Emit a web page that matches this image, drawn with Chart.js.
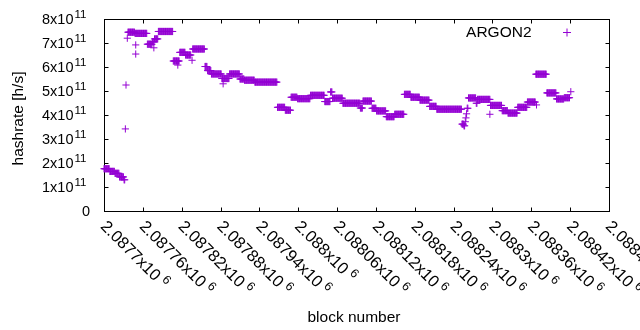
<!DOCTYPE html>
<html>
<head>
<meta charset="utf-8">
<script src="https://cdn.jsdelivr.net/npm/chart.js@4/dist/chart.umd.min.js"></script>
<style>
  html, body { margin: 0; padding: 0; background: #fff; }
  canvas { display: block; }
</style>
</head>
<body>
<canvas id="hashrateChart" width="640" height="330"></canvas>
<script>
const seriesName = 'ARGON2';
const xTitle = 'block number';
const yTitle = 'hashrate [h/s]';

// tick positions (block numbers / hashrate)
const xTicks = [2087700, 2087760, 2087820, 2087880, 2087940, 2088000, 2088060,
                2088120, 2088180, 2088240, 2088300, 2088360, 2088420, 2088480];
const yTicks = [0, 1e11, 2e11, 3e11, 4e11, 5e11, 6e11, 7e11, 8e11];

// hashrate is flat over runs of blocks: [runStart, runEnd) -> runRate
const runStart = [2087700, 2087709, 2087717, 2087724, 2087731, 2087737, 2087748, 2087767, 2087775, 2087778,
                  2087784, 2087807, 2087817, 2087826, 2087837, 2087856, 2087860, 2087866, 2087882, 2087894,
                  2087910, 2087917, 2087933, 2087968, 2087980, 2087989, 2087999, 2088019, 2088041, 2088050,
                  2088053, 2088069, 2088096, 2088100, 2088114, 2088121, 2088136, 2088149, 2088164, 2088174,
                  2088188, 2088203, 2088214, 2088253, 2088256, 2088258, 2088259, 2088260, 2088261, 2088263,
                  2088275, 2088277, 2088297, 2088315, 2088324, 2088339, 2088354, 2088367, 2088384, 2088399,
                  2088411];
const runEnd   = [2087709, 2087717, 2087724, 2087731, 2087733, 2087748, 2087767, 2087775, 2087778, 2087784,
                  2087807, 2087817, 2087826, 2087835, 2087856, 2087860, 2087866, 2087882, 2087894, 2087910,
                  2087917, 2087933, 2087968, 2087980, 2087989, 2087999, 2088019, 2088041, 2088050, 2088053,
                  2088069, 2088096, 2088100, 2088114, 2088121, 2088136, 2088149, 2088164, 2088174, 2088188,
                  2088203, 2088214, 2088253, 2088256, 2088258, 2088259, 2088260, 2088261, 2088263, 2088275,
                  2088277, 2088297, 2088315, 2088324, 2088339, 2088354, 2088367, 2088384, 2088399, 2088411,
                  2088420];
const runRate  = [1.76e11, 1.65e11, 1.57e11, 1.42e11, 1.30e11, 7.45e11, 7.40e11, 6.95e11, 7.05e11, 7.17e11,
                  7.48e11, 6.25e11, 6.61e11, 6.50e11, 6.75e11, 6.02e11, 5.85e11, 5.71e11, 5.52e11, 5.71e11,
                  5.50e11, 5.45e11, 5.37e11, 4.32e11, 4.20e11, 4.74e11, 4.68e11, 4.82e11, 4.56e11, 4.96e11,
                  4.70e11, 4.49e11, 4.29e11, 4.58e11, 4.28e11, 4.17e11, 3.93e11, 4.03e11, 4.86e11, 4.74e11,
                  4.62e11, 4.36e11, 4.24e11, 3.62e11, 3.55e11, 3.72e11, 3.88e11, 4.05e11, 4.28e11, 4.71e11,
                  4.49e11, 4.65e11, 4.40e11, 4.18e11, 4.08e11, 4.32e11, 4.54e11, 5.70e11, 4.92e11, 4.67e11,
                  4.72e11];

// single blocks off the runs
const outlierBlock = [2087733, 2087734, 2087736, 2087749, 2087749, 2087777, 2087814, 2087836, 2087884, 2088296, 2088368, 2088421];
const outlierRate  = [3.42e11, 5.25e11, 7.20e11, 6.92e11, 6.54e11, 6.80e11, 6.08e11, 6.28e11, 5.30e11, 4.03e11, 4.42e11, 4.97e11];

const violet = '#9400d3';
const FONT = '"Liberation Sans", Arial, sans-serif';

const points = [];
runStart.forEach((s, i) => {
  for (let b = s; b < runEnd[i]; b++) points.push({ x: b, y: runRate[i] });
});
outlierBlock.forEach((b, i) => points.push({ x: b, y: outlierRate[i] }));

function xLabel(v) {
  return String(parseFloat((v / 1e6).toFixed(6))) + 'x10';
}

// gnuplot-like frame: border, inward mirrored tics, enhanced-text labels
const gnuplotFrame = {
  id: 'gnuplotFrame',
  beforeDatasetsDraw(chart) {
    const { ctx, chartArea: a, scales: { x, y } } = chart;
    const L = Math.round(a.left) + 0.5, R = Math.round(a.right) + 0.5;
    const T = Math.round(a.top) + 0.5, B = Math.round(a.bottom) + 0.5;
    ctx.save();
    ctx.strokeStyle = '#000';
    ctx.lineWidth = 1;
    ctx.strokeRect(L, T, R - L, B - T);
    ctx.beginPath();
    xTicks.forEach(v => {
      const px = Math.round(x.getPixelForValue(v)) + 0.5;
      ctx.moveTo(px, B); ctx.lineTo(px, B - 4);
      ctx.moveTo(px, T); ctx.lineTo(px, T + 4);
    });
    yTicks.forEach(v => {
      const py = Math.round(y.getPixelForValue(v)) + 0.5;
      ctx.moveTo(L, py); ctx.lineTo(L + 4, py);
      ctx.moveTo(R, py); ctx.lineTo(R - 4, py);
    });
    ctx.stroke();

    ctx.fillStyle = '#000';
    // y tick labels
    yTicks.forEach(v => {
      const py = y.getPixelForValue(v);
      ctx.font = '14.5px ' + FONT;
      ctx.textAlign = 'right';
      ctx.textBaseline = 'alphabetic';
      if (v === 0) {
        ctx.fillText('0', 90, py + 5);
        return;
      }
      ctx.fillText(String(v / 1e11) + 'x10', 73.5, py + 5);
      ctx.font = '11.5px ' + FONT;
      ctx.textAlign = 'left';
      ctx.fillText('11', 74.5, py - 1);
    });
    // x tick labels, rotated
    xTicks.forEach(v => {
      const px = x.getPixelForValue(v);
      ctx.save();
      ctx.translate(px - 1, 224);
      ctx.rotate(Math.PI / 4);
      ctx.textAlign = 'left';
      ctx.textBaseline = 'middle';
      ctx.font = '16.5px ' + FONT;
      const base = xLabel(v);
      ctx.fillText(base, 0, 0);
      const w = ctx.measureText(base).width;
      ctx.font = '12.5px ' + FONT;
      ctx.fillText('6', w + 4, -5);
      ctx.restore();
    });
    // axis titles
    ctx.font = '15.5px ' + FONT;
    ctx.textAlign = 'center';
    ctx.textBaseline = 'alphabetic';
    ctx.fillText(xTitle, 354, 322);
    ctx.save();
    ctx.translate(23, 118.5);
    ctx.rotate(-Math.PI / 2);
    ctx.fillText(yTitle, 0, 0);
    ctx.restore();
    // key
    ctx.textAlign = 'right';
    ctx.fillText(seriesName, 531.5, 37);
    ctx.strokeStyle = violet;
    ctx.beginPath();
    ctx.moveTo(563, 32.5); ctx.lineTo(571, 32.5);
    ctx.moveTo(567, 28.5); ctx.lineTo(567, 36.5);
    ctx.stroke();
    ctx.restore();
  }
};

new Chart(document.getElementById('hashrateChart'), {
  type: 'scatter',
  data: {
    datasets: [{
      label: seriesName,
      data: points,
      pointStyle: 'cross',
      pointRadius: 3.6,
      pointBorderWidth: 1,
      pointBorderColor: violet,
      pointBackgroundColor: violet,
      showLine: false,
      clip: false
    }]
  },
  options: {
    responsive: false,
    animation: false,
    devicePixelRatio: 1,
    layout: { padding: { left: 104, right: 31, top: 19, bottom: 119 } },
    scales: {
      x: { type: 'linear', min: xTicks[0], max: xTicks[xTicks.length - 1], display: false },
      y: { type: 'linear', min: yTicks[0], max: yTicks[yTicks.length - 1], display: false }
    },
    plugins: { legend: { display: false }, tooltip: { enabled: false } }
  },
  plugins: [gnuplotFrame]
});
</script>
</body>
</html>
